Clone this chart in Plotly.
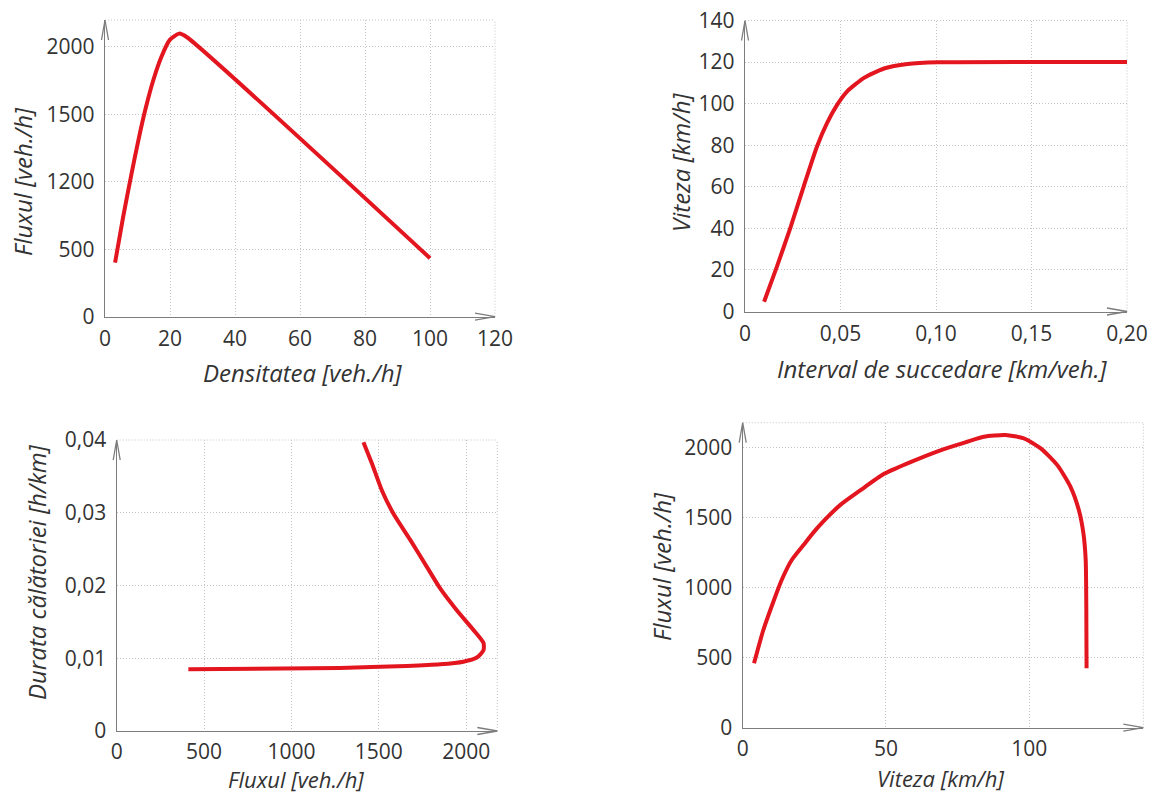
import plotly.graph_objects as go

# ---------------- data ----------------
# Plot 1: Fluxul vs Densitatea
p1_density = [3.1, 5.6, 8.2, 10.2, 12.3, 14.9, 17.4, 20.0, 22.8, 25.1, 100]
p1_flow = [401, 742, 1065, 1300, 1525, 1757, 1930, 2054, 2099, 2074, 434]
p1_xticks = [0, 20, 40, 60, 80, 100, 120]
p1_yticks = [0, 500, 1000, 1500, 2000]
p1_yticktext = ["0", "500", "1200", "1500", "2000"]

# Plot 2: Viteza vs Interval de succedare
p2_headway = [0.010, 0.0167, 0.0237, 0.0307, 0.0377, 0.0430, 0.0483, 0.0535,
              0.0623, 0.0728, 0.0851, 0.1009, 0.20]
p2_speed = [4.7, 21.6, 40.1, 60.1, 79.4, 90.7, 99.5, 105.9, 112.4, 116.9,
            119.1, 119.9, 120]
p2_xticks = [0, 0.05, 0.10, 0.15, 0.20]
p2_xticktext = ["0", "0,05", "0,10", "0,15", "0,20"]
p2_yticks = [0, 20, 40, 60, 80, 100, 120, 140]

# Plot 3: Durata calatoriei vs Fluxul
p3_flow = [410, 1278, 1660, 1851, 1984, 2061, 2099, 2099, 2041, 1946, 1851,
           1774, 1679, 1583, 1517, 1460, 1412]
p3_time = [0.00849, 0.00867, 0.00894, 0.00917, 0.00953, 0.0101, 0.0111,
           0.0121, 0.0139, 0.0166, 0.0196, 0.0226, 0.0263, 0.0299, 0.0331,
           0.0368, 0.0397]
p3_xticks = [0, 500, 1000, 1500, 2000]
p3_yticks = [0, 0.01, 0.02, 0.03, 0.04]
p3_yticktext = ["0", "0,01", "0,02", "0,03", "0,04"]

# Plot 4: Fluxul vs Viteza
p4_speed = [3.95, 7.2, 10.7, 13.6, 17.1, 21.2, 25.9, 34.0, 41.0, 49.2, 57.3,
            69.0, 78.3, 84.1, 91.7, 98.1, 104.0, 109.8, 114.4, 117.3, 118.9,
            119.7, 119.9, 120.0]
p4_flow = [460, 698, 900, 1055, 1198, 1305, 1424, 1590, 1695, 1812, 1887,
           1982, 2043, 2079, 2091, 2067, 1996, 1876, 1721, 1555, 1389, 1198,
           889, 424]
p4_xticks = [0, 50, 100]
p4_yticks = [0, 500, 1000, 1500, 2000]

# ---------------- style ----------------
RED = "#e3151f"
AXIS = "#7d7d7d"
GRID = "#c4c4c4"
TXT = "#333333"
FONT = "Open Sans"

fig = go.Figure()

series = [
    (p1_density, p1_flow, "x", "y"),
    (p2_headway, p2_speed, "x2", "y2"),
    (p3_flow, p3_time, "x3", "y3"),
    (p4_speed, p4_flow, "x4", "y4"),
]
for xs, ys, xa, ya in series:
    fig.add_trace(go.Scatter(x=xs, y=ys, xaxis=xa, yaxis=ya, mode="lines",
                             line=dict(color=RED, width=4, shape="spline",
                                       smoothing=0.6),
                             showlegend=False, hoverinfo="skip"))


def ax(domain, rng, tickvals, ticktext=None, anchor=None, side="x"):
    d = dict(domain=domain, range=rng, tickvals=tickvals,
             ticktext=ticktext if ticktext else [str(v) for v in tickvals],
             showgrid=True, gridcolor=GRID, griddash="1px,2px", gridwidth=1,
             zeroline=False, showline=True, linecolor=AXIS, linewidth=1.4,
             ticks="", tickfont=dict(family=FONT, size=21, color=TXT),
             anchor=anchor, fixedrange=True, automargin=False)
    d["ticklabelstandoff"] = 5 if side == "y" else 3
    return d


fig.update_layout(
    template="none",
    width=1152, height=794,
    margin=dict(l=0, r=0, t=0, b=0, pad=0),
    paper_bgcolor="white", plot_bgcolor="white",
    xaxis=ax([105 / 1152, 495 / 1152], [0, 120], p1_xticks, anchor="y"),
    yaxis=ax([1 - 316.7 / 794, 1 - 20 / 794], [0, 2200], p1_yticks,
             p1_yticktext, anchor="x", side="y"),
    xaxis2=ax([745 / 1152, 1127 / 1152], [0, 0.20], p2_xticks, p2_xticktext,
              anchor="y2"),
    yaxis2=ax([1 - 311.5 / 794, 1 - 20.5 / 794], [0, 140], p2_yticks,
              anchor="x2", side="y"),
    xaxis3=ax([116.7 / 1152, 497.3 / 1152], [0, 2178], p3_xticks,
              anchor="y3"),
    yaxis3=ax([1 - 731 / 794, 1 - 440 / 794], [0, 0.04], p3_yticks,
              p3_yticktext, anchor="x3", side="y"),
    xaxis4=ax([742.7 / 1152, 1143.3 / 1152], [0, 139.8], p4_xticks,
              anchor="y4"),
    yaxis4=ax([1 - 727.7 / 794, 1 - 422.7 / 794], [0, 2179], p4_yticks,
              anchor="x4", side="y"),
)
fig.update_layout(xaxis3_ticklabelstandoff=2, xaxis4_ticklabelstandoff=2)

shapes = []
for i in ["", "2", "3", "4"]:
    xr, yr = f"x{i} domain", f"y{i} domain"
    # dotted frame (top and right edges)
    shapes.append(dict(type="line", xref=xr, yref=yr, x0=0, x1=1, y0=1, y1=1,
                       line=dict(color=GRID, width=1, dash="1px,2px"),
                       layer="below"))
    shapes.append(dict(type="line", xref=xr, yref=yr, x0=1, x1=1, y0=0, y1=1,
                       line=dict(color=GRID, width=1, dash="1px,2px"),
                       layer="below"))
    # arrowheads
    shapes.append(dict(type="path", xref=xr, yref=yr, xsizemode="pixel",
                       ysizemode="pixel", xanchor=1, yanchor=0,
                       path="M-20,3.5 L0,0 L-20,-3.5",
                       line=dict(color=AXIS, width=1.3)))
    shapes.append(dict(type="path", xref=xr, yref=yr, xsizemode="pixel",
                       ysizemode="pixel", xanchor=0, yanchor=1,
                       path="M-3.5,-20 L0,0 L3.5,-20",
                       line=dict(color=AXIS, width=1.3)))
fig.update_layout(shapes=shapes)

titles = [
    ("Densitatea [veh./h]", 302, 373, 0, 24),
    ("Fluxul [veh./h]", 23, 182, -90, 24),
    ("Interval de succedare [km/veh.]", 942, 368, 0, 24),
    ("Viteza [km/h]", 680, 163, -90, 24),
    ("Fluxul [veh./h]", 296, 779, 0, 22),
    ("Durata călătoriei [h/km]", 36, 572, -90, 24),
    ("Viteza [km/h]", 941, 778, 0, 22),
    ("Fluxul [veh./h]", 661, 567, -90, 24),
]
for text, px, py, ang, fs in titles:
    fig.add_annotation(text=text, xref="paper", yref="paper",
                       x=px / 1152, y=1 - py / 794, xanchor="center",
                       yanchor="middle", showarrow=False, textangle=ang,
                       borderpad=0,
                       font=dict(family=FONT, size=fs, color=TXT,
                                 style="italic"))

fig.write_html("out.html",
               config={"displayModeBar": False},
               post_script="document.body.style.margin='0';"
                           "document.body.style.overflow='hidden';")
